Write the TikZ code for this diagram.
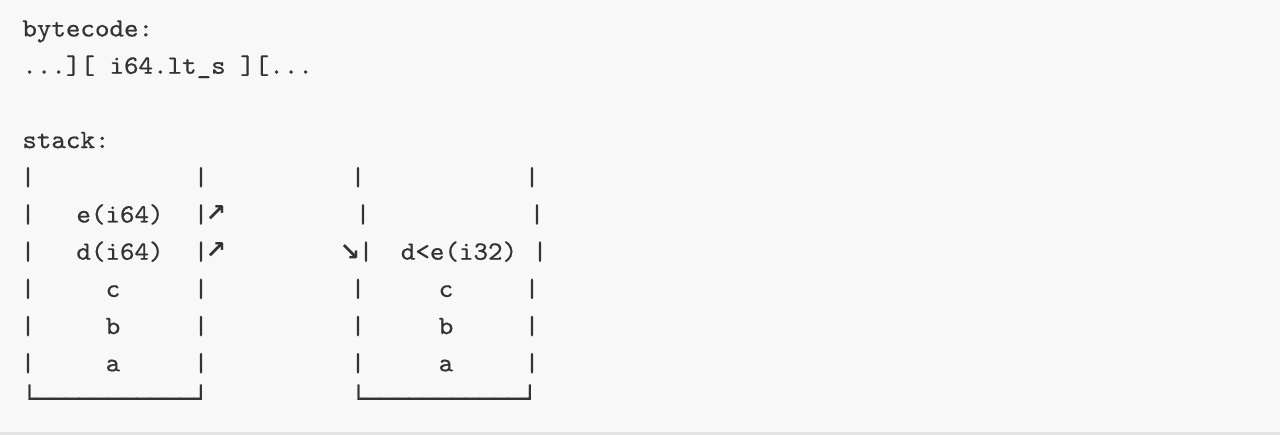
\documentclass[tikz,border=0pt]{standalone}
\usepackage{fontspec}
\setmonofont{lmmono10-regular.otf}[FakeBold=0.6, FakeStretch=1.05]
\newfontfamily\arrowfont{DejaVu Sans}
\newfontfamily\boxfont{DejaVu Sans Mono}[FakeBold=1.2]
\usetikzlibrary{positioning}
\definecolor{codeInk}{HTML}{333333}
\definecolor{codeBg}{HTML}{F8F8F8}
\definecolor{codeRule}{HTML}{E4E4E4}
\tikzset{
  code/.style={inner sep=0pt, anchor=base west, text=codeInk,
    font=\ttfamily\fontsize{15}{18}\selectfont},
  cell/.style={code, anchor=base},
  pointer/.style={inner sep=0pt, anchor=center, text=codeInk,
    font=\arrowfont\bfseries\fontsize{14}{16}\selectfont},
  floor/.style={inner sep=0pt, anchor=base west, text=codeInk,
    font=\boxfont\fontsize{13.5}{16}\selectfont}
}

\begin{document}
\begin{tikzpicture}[x=0.02cm, y=-0.02cm]

    \fill[codeBg] (0,0) rectangle (1280,435); % the code block
    \fill[codeRule] (0,432) rectangle (1280,435);
    \useasboundingbox (0,0) rectangle (1280,435);

    \node[code] (bclabel) at (22,36.5) {bytecode:};
    \node[code] (bcline)  at (22,73.7) {...][ i64.lt\_s ][...};
    \node[code] (stlabel) at (22,148.1) {stack:};

    % walls of both stacks, row by row
    \foreach \r/\y/\xl/\xr in {4/185.3/358/532,5/222.5/363/537,6/259.7/366/540,
                               7/296.9/358/532,8/334.1/358/532,9/371.3/358/532}{
      \node[cell] (lwa\r) at (28,\y) {|};
      \node[cell] (lwb\r) at (201,\y) {|};
      \node[cell] (rwa\r) at (\xl,\y) {|};
      \node[cell] (rwb\r) at (\xr,\y) {|};
    }

    % before
    \node[cell] (le) at (120,222.5) {e(i64)};
    \node[cell] (ld) at (120,259.7) {d(i64)};
    \node[cell] (lc) at (113,296.9) {c};
    \node[cell] (lb) at (113,334.1) {b};
    \node[cell] (la) at (113,371.3) {a};
    \node[floor] (lfloor) at (22,407) {└───────────┘};

    % after
    \node[cell] (rde) at (459,259.7) {d<e(i32)};
    \node[cell] (rc) at (446,296.9) {c};
    \node[cell] (rb) at (446,334.1) {b};
    \node[cell] (ra) at (446,371.3) {a};
    \node[floor] (rfloor) at (351,407) {└───────────┘};

    \node[pointer] (upe) at (216,214) {↗};
    \node[pointer] (upd) at (216,251) {↗};
    \node[pointer] (down) at (350,253) {↘};

\end{tikzpicture}
\end{document}
